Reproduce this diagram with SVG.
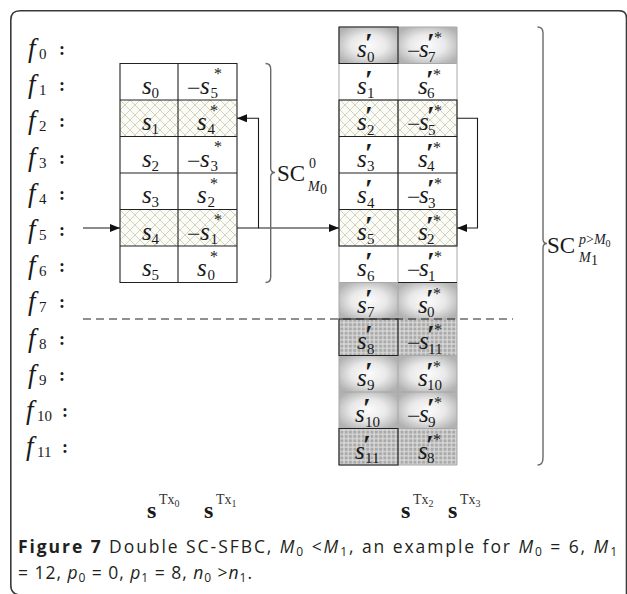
<svg xmlns="http://www.w3.org/2000/svg" width="627" height="594" viewBox="0 0 627 594">
<style>
.fr{fill:none;stroke:#3a3a3a;stroke-width:1.6}
.s{font-family:"Liberation Serif",serif;font-style:italic;font-size:25px;fill:#1a1a1a}
.sub{font-family:"Liberation Serif",serif;font-size:15px;fill:#1a1a1a}
.star{font-family:"Liberation Serif",serif;font-size:16px;fill:#1a1a1a}
.mn{font-family:"Liberation Serif",serif;font-size:24px;fill:#1a1a1a}
.pr{font-family:"Liberation Serif",serif;font-size:28px;font-weight:bold;fill:#1a1a1a}
.f{font-family:"Liberation Serif",serif;font-style:italic;font-size:27px;fill:#1a1a1a}
.col{font-family:"Liberation Serif",serif;font-size:18px;font-weight:bold;fill:#1a1a1a}
.sc{font-family:"Liberation Serif",serif;font-size:23px;fill:#1a1a1a}
.scs{font-family:"Liberation Serif",serif;font-size:14px;fill:#1a1a1a}
.bs{font-family:"Liberation Serif",serif;font-size:24px;font-weight:bold;fill:#1a1a1a}
.tx{font-family:"Liberation Serif",serif;font-size:14px;fill:#333}
.cap{font-family:"Open Sans","Liberation Sans",sans-serif;font-size:17.5px;fill:#231f20}
.bl{fill:none;stroke:#222;stroke-width:1.1}
.gl{fill:none;stroke:#a8a8a8;stroke-width:1}
.cn{fill:none;stroke:#1a1a1a;stroke-width:1.1}
.br{fill:none;stroke:#6a6a6a;stroke-width:1.4}
</style>
<defs>
<pattern id="hatch" width="10" height="10" patternUnits="userSpaceOnUse">
<rect width="10" height="10" fill="#fbfbf7"/>
<path d="M0,0 L10,10 M10,0 L0,10" stroke="#d3d3bd" stroke-width="1"/>
</pattern>
<pattern id="grid" width="4.3" height="4.3" patternUnits="userSpaceOnUse">
<rect width="4.3" height="4.3" fill="#dcdcdc"/>
<rect x="0.6" y="0.6" width="3.1" height="3.1" fill="#a9a9a9"/>
</pattern>
<radialGradient id="grad" cx="50%" cy="50%" r="60%">
<stop offset="0" stop-color="#fcfcfc"/>
<stop offset="0.5" stop-color="#e9e9e9"/>
<stop offset="1" stop-color="#b2b2b2"/>
</radialGradient>
<marker id="ah" markerWidth="10" markerHeight="8" refX="10" refY="4" orient="auto" markerUnits="userSpaceOnUse">
<path d="M0,0 L10,4 L0,8 Z" fill="#111"/>
</marker>
</defs>
<rect width="627" height="594" fill="#fff"/>
<path class="fr" d="M21,595 Q10.8,595 10.8,585 V20 Q10.8,10.8 20,10.8 H619 Q626.5,10.8 626.5,18 V600"/>

<g id="f-labels">
<text class="f" x="28" y="57">f</text><text class="sub" x="39" y="59">0</text><text class="col" x="59" y="55">:</text>
<text class="f" x="28" y="93">f</text><text class="sub" x="39" y="95">1</text><text class="col" x="59" y="91">:</text>
<text class="f" x="28" y="129">f</text><text class="sub" x="39" y="131">2</text><text class="col" x="59" y="127">:</text>
<text class="f" x="28" y="166">f</text><text class="sub" x="39" y="168">3</text><text class="col" x="59" y="164">:</text>
<text class="f" x="28" y="202">f</text><text class="sub" x="39" y="204">4</text><text class="col" x="59" y="200">:</text>
<text class="f" x="28" y="238">f</text><text class="sub" x="39" y="240">5</text><text class="col" x="59" y="236">:</text>
<text class="f" x="28" y="274">f</text><text class="sub" x="39" y="276">6</text><text class="col" x="59" y="272">:</text>
<text class="f" x="28" y="310">f</text><text class="sub" x="39" y="312">7</text><text class="col" x="59" y="308">:</text>
<text class="f" x="28" y="347">f</text><text class="sub" x="39" y="349">8</text><text class="col" x="59" y="345">:</text>
<text class="f" x="28" y="383">f</text><text class="sub" x="39" y="385">9</text><text class="col" x="59" y="381">:</text>
<text class="f" x="26" y="419">f</text><text class="sub" x="37" y="421">10</text><text class="col" x="62" y="417">:</text>
<text class="f" x="26" y="455">f</text><text class="sub" x="37" y="457">11</text><text class="col" x="62" y="453">:</text>
</g>

<g id="table-left">
<rect x="120" y="100" width="117" height="36.5" fill="url(#hatch)"/>
<rect x="120" y="209.5" width="117" height="36.5" fill="url(#hatch)"/>
<path class="bl" d="M120,63.5 H237 V282.5 H120 Z M178,63.5 V282.5 M120,100 H237 M120,136.5 H237 M120,173 H237 M120,209.5 H237 M120,246 H237"/>
<g id="L0"><text class="s" x="142" y="93.5">s</text><text class="sub" x="151.5" y="97.5">0</text>
<text class="mn" x="187" y="95.5">−</text><text class="s" x="200" y="93.5">s</text><text class="sub" x="210.5" y="97.5">5</text><text class="star" x="214" y="79">*</text></g>
<g id="L1"><text class="s" x="142" y="130">s</text><text class="sub" x="151.5" y="134">1</text>
<text class="s" x="197" y="130">s</text><text class="sub" x="207.5" y="134">4</text><text class="star" x="210" y="115.5">*</text></g>
<g id="L2"><text class="s" x="142" y="166.5">s</text><text class="sub" x="151.5" y="170.5">2</text>
<text class="mn" x="187" y="168.5">−</text><text class="s" x="200" y="166.5">s</text><text class="sub" x="210.5" y="170.5">3</text><text class="star" x="214" y="152">*</text></g>
<g id="L3"><text class="s" x="142" y="203">s</text><text class="sub" x="151.5" y="207">3</text>
<text class="s" x="197" y="203">s</text><text class="sub" x="207.5" y="207">2</text><text class="star" x="210" y="188.5">*</text></g>
<g id="L4"><text class="s" x="142" y="239.5">s</text><text class="sub" x="151.5" y="243.5">4</text>
<text class="mn" x="187" y="241.5">−</text><text class="s" x="200" y="239.5">s</text><text class="sub" x="210.5" y="243.5">1</text><text class="star" x="214" y="225">*</text></g>
<g id="L5"><text class="s" x="142" y="276">s</text><text class="sub" x="151.5" y="280">5</text>
<text class="s" x="197" y="276">s</text><text class="sub" x="207.5" y="280">0</text><text class="star" x="210" y="261.5">*</text></g>
</g>

<g id="table-right">
<rect x="339" y="100" width="118" height="36.5" fill="url(#hatch)"/>
<rect x="339" y="209.5" width="118" height="36.5" fill="url(#hatch)"/>
<rect x="339" y="319" width="118" height="36.5" fill="url(#grid)"/>
<rect x="339" y="428.5" width="118" height="36.5" fill="url(#grid)"/>
<rect x="339" y="27" width="59" height="36.5" fill="url(#grad)"/>
<rect x="398" y="27" width="59" height="36.5" fill="url(#grad)"/>
<rect x="339" y="282.5" width="59" height="36.5" fill="url(#grad)"/>
<rect x="398" y="282.5" width="59" height="36.5" fill="url(#grad)"/>
<rect x="339" y="355.5" width="59" height="36.5" fill="url(#grad)"/>
<rect x="398" y="355.5" width="59" height="36.5" fill="url(#grad)"/>
<rect x="339" y="392" width="59" height="36.5" fill="url(#grad)"/>
<rect x="398" y="392" width="59" height="36.5" fill="url(#grad)"/>
<path class="gl" d="M339,27 H457 V465 H339 Z M398,27 V465 M339,63.5 H457 M339,100 H457 M339,246 H457 M339,282.5 H457 M339,319 H457 M339,355.5 H457 M339,392 H457 M339,428.5 H457"/>
<path class="bl" d="M339,27 H398 V63.5 H339 Z M339,100 H457 V246 H339 Z M398,100 V246 M339,136.5 H457 M339,173 H457 M339,209.5 H457 M398,282.5 H457 M339,319 H398 V355.5 H339 Z M339,428.5 H398 V465 H339 Z"/>
<g id="R0"><text class="s" x="357" y="57">s</text><text class="pr" x="365" y="52">′</text><text class="sub" x="367" y="61.5">0</text>
<text class="mn" x="407" y="59">−</text><text class="s" x="419" y="57">s</text><text class="pr" x="427" y="52">′</text><text class="sub" x="428" y="61.5">7</text><text class="star" x="434" y="43">*</text></g>
<g id="R1"><text class="s" x="357" y="93.5">s</text><text class="pr" x="365" y="88.5">′</text><text class="sub" x="367" y="98">1</text>
<text class="s" x="418" y="93.5">s</text><text class="pr" x="426" y="88.5">′</text><text class="sub" x="427" y="98">6</text><text class="star" x="433" y="79.5">*</text></g>
<g id="R2"><text class="s" x="357" y="130">s</text><text class="pr" x="365" y="125">′</text><text class="sub" x="367" y="134.5">2</text>
<text class="mn" x="407" y="132">−</text><text class="s" x="419" y="130">s</text><text class="pr" x="427" y="125">′</text><text class="sub" x="428" y="134.5">5</text><text class="star" x="434" y="116">*</text></g>
<g id="R3"><text class="s" x="357" y="166.5">s</text><text class="pr" x="365" y="161.5">′</text><text class="sub" x="367" y="171">3</text>
<text class="s" x="418" y="166.5">s</text><text class="pr" x="426" y="161.5">′</text><text class="sub" x="427" y="171">4</text><text class="star" x="433" y="152.5">*</text></g>
<g id="R4"><text class="s" x="357" y="203">s</text><text class="pr" x="365" y="198">′</text><text class="sub" x="367" y="207.5">4</text>
<text class="mn" x="407" y="205">−</text><text class="s" x="419" y="203">s</text><text class="pr" x="427" y="198">′</text><text class="sub" x="428" y="207.5">3</text><text class="star" x="434" y="189">*</text></g>
<g id="R5"><text class="s" x="357" y="239.5">s</text><text class="pr" x="365" y="234.5">′</text><text class="sub" x="367" y="244">5</text>
<text class="s" x="418" y="239.5">s</text><text class="pr" x="426" y="234.5">′</text><text class="sub" x="427" y="244">2</text><text class="star" x="433" y="225.5">*</text></g>
<g id="R6"><text class="s" x="357" y="276">s</text><text class="pr" x="365" y="271">′</text><text class="sub" x="367" y="280.5">6</text>
<text class="mn" x="407" y="278">−</text><text class="s" x="419" y="276">s</text><text class="pr" x="427" y="271">′</text><text class="sub" x="428" y="280.5">1</text><text class="star" x="434" y="262">*</text></g>
<g id="R7"><text class="s" x="357" y="312.5">s</text><text class="pr" x="365" y="307.5">′</text><text class="sub" x="367" y="317">7</text>
<text class="s" x="418" y="312.5">s</text><text class="pr" x="426" y="307.5">′</text><text class="sub" x="427" y="317">0</text><text class="star" x="433" y="298.5">*</text></g>
<g id="R8"><text class="s" x="357" y="349">s</text><text class="pr" x="365" y="344">′</text><text class="sub" x="367" y="353.5">8</text>
<text class="mn" x="407" y="351">−</text><text class="s" x="419" y="349">s</text><text class="pr" x="427" y="344">′</text><text class="sub" x="428" y="353.5">11</text><text class="star" x="434" y="335">*</text></g>
<g id="R9"><text class="s" x="357" y="385.5">s</text><text class="pr" x="365" y="380.5">′</text><text class="sub" x="367" y="390">9</text>
<text class="s" x="418" y="385.5">s</text><text class="pr" x="426" y="380.5">′</text><text class="sub" x="427" y="390">10</text><text class="star" x="433" y="371.5">*</text></g>
<g id="R10"><text class="s" x="355" y="422">s</text><text class="pr" x="363" y="417">′</text><text class="sub" x="365" y="426.5">10</text>
<text class="mn" x="407" y="424">−</text><text class="s" x="419" y="422">s</text><text class="pr" x="427" y="417">′</text><text class="sub" x="428" y="426.5">9</text><text class="star" x="434" y="408">*</text></g>
<g id="R11"><text class="s" x="355" y="458.5">s</text><text class="pr" x="363" y="453.5">′</text><text class="sub" x="365" y="463">11</text>
<text class="s" x="418" y="458.5">s</text><text class="pr" x="426" y="453.5">′</text><text class="sub" x="427" y="463">8</text><text class="star" x="433" y="444.5">*</text></g>
</g>

<g id="connectors">
<path class="cn" d="M83,228 H120" marker-end="url(#ah)"/>
<path class="cn" d="M237,228 H258.5 V118.3 H237" marker-end="url(#ah)"/>
<path class="cn" d="M258.5,228 H339" marker-end="url(#ah)"/>
<path class="cn" d="M457,118.3 H477.5 V228 H457" marker-end="url(#ah)"/>
<path d="M83,319 H513" fill="none" stroke="#222" stroke-width="1.1" stroke-dasharray="8,5"/>
</g>

<g id="brace-left">
<path class="br" d="M265.5,63.5 Q270.7,63.5 270.7,69 V168 Q270.7,172.5 275,172.5 Q270.7,172.5 270.7,177 V277 Q270.7,282.5 265.5,282.5"/>
<text class="sc" x="277" y="181">SC</text>
<text class="scs" x="309" y="168">0</text>
<text class="scs" x="308" y="191" font-style="italic">M</text><text class="scs" x="320" y="194" font-size="10">0</text>
</g>

<g id="brace-right">
<path class="br" d="M537.5,27 Q543,27 543,33 V239 Q543,243.5 547,243.5 Q543,243.5 543,248 V458 Q543,465 537.5,465"/>
<text class="sc" x="547" y="253">SC</text>
<text class="scs" x="579" y="244"><tspan font-style="italic">p</tspan>&gt;<tspan font-style="italic">M</tspan><tspan font-size="10" dy="3">0</tspan></text>
<text class="scs" x="579" y="262" font-style="italic">M</text><text class="scs" x="591" y="265" font-size="10">1</text>
</g>

<g id="tx-labels">
<text class="bs" x="147" y="518">s</text><text class="tx" x="159" y="504">Tx<tspan font-size="10" dy="3">0</tspan></text>
<text class="bs" x="204" y="518">s</text><text class="tx" x="216" y="504">Tx<tspan font-size="10" dy="3">1</tspan></text>
<text class="bs" x="401" y="518">s</text><text class="tx" x="413" y="504">Tx<tspan font-size="10" dy="3">2</tspan></text>
<text class="bs" x="448" y="518">s</text><text class="tx" x="460" y="504">Tx<tspan font-size="10" dy="3">3</tspan></text>
</g>

<g id="caption">
<text class="cap" x="18" y="553" textLength="599" lengthAdjust="spacing"><tspan font-weight="bold">Figure 7</tspan> Double SC-SFBC, <tspan font-style="italic">M</tspan><tspan font-size="12" dy="3">0</tspan><tspan dy="-3"> &lt;</tspan><tspan font-style="italic">M</tspan><tspan font-size="12" dy="3">1</tspan><tspan dy="-3">, an example for </tspan><tspan font-style="italic">M</tspan><tspan font-size="12" dy="3">0</tspan><tspan dy="-3"> = 6, </tspan><tspan font-style="italic">M</tspan><tspan font-size="12" dy="3">1</tspan></text>
<text class="cap" x="18" y="579" textLength="234" lengthAdjust="spacing">= 12, <tspan font-style="italic">p</tspan><tspan font-size="12" dy="3">0</tspan><tspan dy="-3"> = 0, </tspan><tspan font-style="italic">p</tspan><tspan font-size="12" dy="3">1</tspan><tspan dy="-3"> = 8, </tspan><tspan font-style="italic">n</tspan><tspan font-size="12" dy="3">0</tspan><tspan dy="-3"> &gt;</tspan><tspan font-style="italic">n</tspan><tspan font-size="12" dy="3">1</tspan><tspan dy="-3">.</tspan></text>
</g>
</svg>
